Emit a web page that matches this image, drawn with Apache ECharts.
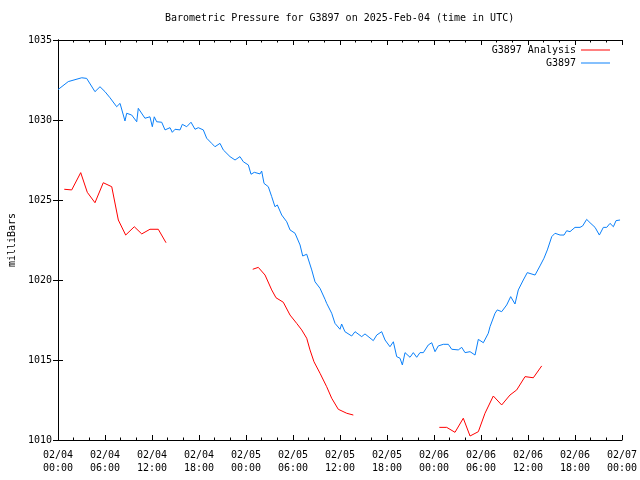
<!DOCTYPE html>
<html>
<head>
<meta charset="utf-8">
<script src="https://cdn.jsdelivr.net/npm/echarts@6/dist/echarts.min.js"></script>
<style>html,body{margin:0;padding:0;background:#fff;}#c{width:640px;height:480px;}</style>
</head>
<body>
<div id="c"></div>
<script>
const titleText = 'Barometric Pressure for G3897 on 2025-Feb-04 (time in UTC)';
const xTickLabels = ['02/04\n00:00','02/04\n06:00','02/04\n12:00','02/04\n18:00','02/05\n00:00','02/05\n06:00','02/05\n12:00','02/05\n18:00','02/06\n00:00','02/06\n06:00','02/06\n12:00','02/06\n18:00','02/07\n00:00'];

// G3897 observations: hours since 02/04 00:00 UTC, pressure (mb)
const obsHours = [0,1.31,3.03,3.66,4.72,5.36,6.0,6.64,7.49,7.92,8.55,8.77,9.41,10.05,10.25,11.1,11.74,12.04,12.29,12.6,13.24,13.66,14.3,14.59,14.94,15.58,15.87,16.43,16.98,17.49,17.91,18.55,18.98,19.62,20.04,20.68,21.1,21.96,22.6,23.23,23.66,24.3,24.64,25.06,25.79,26.0,26.3,26.85,27.28,27.7,28.0,28.56,29.2,29.62,30.26,30.9,31.24,31.75,32.39,32.81,33.45,34.09,34.3,34.94,35.36,36.0,36.21,36.63,37.49,37.92,38.77,39.19,40.25,40.69,41.32,41.75,42.38,42.81,43.24,43.66,43.96,44.3,44.94,45.36,45.79,46.21,46.64,47.27,47.71,48.13,48.55,49.19,49.83,50.26,51.1,51.54,51.96,52.6,53.24,53.66,54.3,54.93,55.15,55.79,56.08,56.64,57.28,57.79,58.34,58.76,59.4,59.91,60.9,61.53,62.04,62.47,63.03,63.45,64.09,64.6,64.94,65.36,66.0,66.64,66.98,67.49,67.92,68.56,69.11,69.62,70.05,70.47,70.9,71.24,71.75];
const obsValues = [1031.9,1032.4,1032.64,1032.6,1031.77,1032.08,1031.77,1031.39,1030.83,1031.04,1029.94,1030.42,1030.31,1029.89,1030.73,1030.11,1030.2,1029.58,1030.2,1029.89,1029.86,1029.38,1029.52,1029.23,1029.42,1029.38,1029.73,1029.58,1029.86,1029.42,1029.52,1029.38,1028.86,1028.54,1028.33,1028.54,1028.13,1027.71,1027.5,1027.71,1027.39,1027.19,1026.61,1026.73,1026.63,1026.81,1026.04,1025.83,1025.21,1024.58,1024.69,1024.06,1023.64,1023.13,1022.92,1022.19,1021.5,1021.61,1020.63,1019.89,1019.48,1018.79,1018.54,1017.92,1017.29,1016.92,1017.25,1016.77,1016.5,1016.77,1016.46,1016.63,1016.21,1016.56,1016.77,1016.25,1015.83,1016.14,1015.21,1015.11,1014.69,1015.46,1015.17,1015.46,1015.17,1015.46,1015.46,1015.94,1016.08,1015.52,1015.88,1015.98,1015.98,1015.67,1015.63,1015.79,1015.46,1015.52,1015.31,1016.29,1016.08,1016.67,1017.08,1017.92,1018.13,1018.02,1018.44,1018.96,1018.5,1019.38,1020.0,1020.46,1020.31,1020.88,1021.36,1021.88,1022.71,1022.92,1022.81,1022.81,1023.08,1023.02,1023.29,1023.29,1023.38,1023.79,1023.58,1023.29,1022.81,1023.29,1023.29,1023.54,1023.33,1023.71,1023.75];

// G3897 Analysis: three separate segments
const anaHours1 = [0.8,1.75,2.9,3.74,4.72,5.78,6.86,7.7,8.64,9.74,10.69,11.74,12.8,13.79];
const anaValues1 = [1025.67,1025.63,1026.71,1025.48,1024.83,1026.08,1025.83,1023.75,1022.81,1023.33,1022.88,1023.17,1023.17,1022.33];
const anaHours2 = [24.86,25.57,26.43,27.28,27.83,28.76,29.62,30.47,31.11,31.75,32.17,32.68,33.45,34.3,34.94,35.78,36.86,37.7];
const anaValues2 = [1020.67,1020.79,1020.31,1019.38,1018.89,1018.61,1017.81,1017.29,1016.88,1016.36,1015.63,1014.89,1014.17,1013.33,1012.61,1011.92,1011.67,1011.56];
const anaHours3 = [48.68,49.62,50.68,51.74,52.6,53.66,54.51,55.57,56.64,57.7,58.56,59.62,60.68,61.75];
const anaValues3 = [1010.79,1010.79,1010.48,1011.36,1010.25,1010.52,1011.67,1012.75,1012.19,1012.81,1013.13,1013.96,1013.89,1014.63];

const zip = (a, b) => a.map((h, i) => [h, b[i]]);
const FONT = 'DejaVu Sans Mono';
const RED = '#ff0000';
const BLUE = '#0a80fa';

const chart = echarts.init(document.getElementById('c'), null, {renderer: 'canvas'});

const baseX = {
  type: 'value', min: 0, max: 72, interval: 6,
  axisLine: {show: true, lineStyle: {color: '#000', width: 1}},
  axisTick: {show: true, inside: true, length: 5, lineStyle: {color: '#000'}},
  minorTick: {show: true, splitNumber: 3, length: 2.5, lineStyle: {color: '#000'}},
  splitLine: {show: false}
};
const baseY = {
  type: 'value', min: 1010, max: 1035, interval: 5,
  axisLine: {show: true, lineStyle: {color: '#000', width: 1}},
  axisTick: {show: true, inside: true, length: 5, lineStyle: {color: '#000'}},
  splitLine: {show: false}
};

const lineStyle = (c) => ({color: c, width: 1});

chart.setOption({
  animation: false,
  backgroundColor: '#fff',
  textStyle: {fontFamily: FONT},
  title: {
    text: titleText, left: 165, top: 13, padding: 0,
    textStyle: {fontFamily: FONT, fontSize: 10, fontWeight: 'normal', color: '#000'}
  },
  legend: [
    {data: ['G3897 Analysis'], right: 30, top: 45, padding: 0, align: 'right', icon: 'rect', itemWidth: 29, itemHeight: 1,
     textStyle: {fontFamily: FONT, fontSize: 10, color: '#000'}, selectedMode: false},
    {data: ['G3897'], right: 30, top: 58, padding: 0, align: 'right', icon: 'rect', itemWidth: 29, itemHeight: 1,
     textStyle: {fontFamily: FONT, fontSize: 10, color: '#000'}, selectedMode: false}
  ],
  grid: {left: 58, right: 18, top: 40, bottom: 40, containLabel: false, outerBoundsMode: 'none'},
  xAxis: [
    Object.assign({}, baseX, {
      position: 'bottom',
      axisLabel: {
        margin: 9, fontFamily: FONT, fontSize: 10, color: '#000', lineHeight: 13,
        formatter: (v) => xTickLabels[Math.round(v / 6)]
      }
    }),
    Object.assign({}, baseX, {position: 'top', axisLabel: {show: false}})
  ],
  yAxis: [
    Object.assign({}, baseY, {
      position: 'left',
      name: 'milliBars', nameLocation: 'middle', nameGap: 39,
      nameTextStyle: {fontFamily: FONT, fontSize: 10, color: '#000'},
      axisLabel: {margin: 6, fontFamily: FONT, fontSize: 10, color: '#000', formatter: (v) => String(v)}
    }),
    Object.assign({}, baseY, {position: 'right', axisLabel: {show: false}})
  ],
  series: [
    {name: 'G3897 Analysis', type: 'line', symbol: 'none', data: zip(anaHours1, anaValues1), lineStyle: lineStyle(RED), itemStyle: {color: RED}},
    {name: 'G3897 Analysis', type: 'line', symbol: 'none', data: zip(anaHours2, anaValues2), lineStyle: lineStyle(RED), itemStyle: {color: RED}},
    {name: 'G3897 Analysis', type: 'line', symbol: 'none', data: zip(anaHours3, anaValues3), lineStyle: lineStyle(RED), itemStyle: {color: RED}},
    {name: 'G3897', type: 'line', symbol: 'none', data: zip(obsHours, obsValues), lineStyle: lineStyle(BLUE), itemStyle: {color: BLUE}}
  ]
});
</script>
</body>
</html>
